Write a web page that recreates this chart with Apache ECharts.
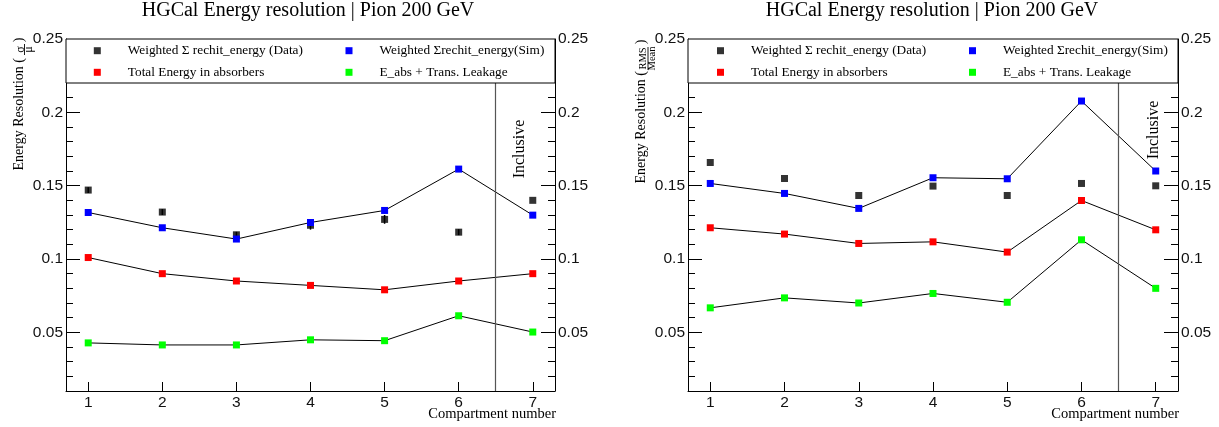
<!DOCTYPE html>
<html>
<head>
<meta charset="utf-8">
<title>HGCal Energy resolution | Pion 200 GeV</title>
<script src="https://cdn.jsdelivr.net/npm/echarts@6/dist/echarts.min.js"></script>
<style>
  html, body { margin: 0; padding: 0; background: #fff; }
  #chart { width: 1219px; height: 427px; }
</style>
</head>
<body>
<div id="chart"></div>
<script>
// Compartment numbers (7 = inclusive)
const compartments = [1, 2, 3, 4, 5, 6, 7];

// Resolution from the fitted width: sigma / mu
const sigmaData = [0.147, 0.132, 0.1165, 0.123, 0.127, 0.1183, 0.140];
const sigmaDataErr = [0.002, 0.002, 0.002, 0.003, 0.003, 0.002, 0];
const sigmaSim = [0.1317, 0.1213, 0.1136, 0.1249, 0.1331, 0.1613, 0.1299];
const sigmaSimErr = [0, 0, 0, 0.002, 0.002, 0.002, 0];
const sigmaAbs = [0.101, 0.090, 0.085, 0.082, 0.079, 0.085, 0.090];
const sigmaLeak = [0.0428, 0.0414, 0.0414, 0.0449, 0.0443, 0.0613, 0.0502];

// Resolution from RMS / Mean
const rmsData = [0.1658, 0.1549, 0.1433, 0.1497, 0.1433, 0.1515, 0.1499];
const rmsSim = [0.1515, 0.1447, 0.1345, 0.1554, 0.1547, 0.2077, 0.160];
const rmsAbs = [0.1213, 0.117, 0.1106, 0.1117, 0.1047, 0.1399, 0.1199];
const rmsLeak = [0.0667, 0.0735, 0.0700, 0.0765, 0.0705, 0.1131, 0.0800];

// Axis ticks and labels
const xMajorTicks = [1, 2, 3, 4, 5, 6, 7];
const yLabelValues = [0.05, 0.1, 0.15, 0.2, 0.25];
const yMajorTicks = [0.05, 0.1, 0.15, 0.2];

const xMinorTicks = [];
for (let i = 4; i <= 36; i++) { if (i % 5 !== 0) xMinorTicks.push(Math.round(i * 2) / 10); }
const yMinorTicks = [];
for (let i = 2; i <= 21; i++) { if (i % 5 !== 0) yMinorTicks.push(i / 100); }

const N_DATA = 'Weighted \u03A3 rechit_energy (Data)';
const N_SIM = 'Weighted \u03A3rechit_energy(Sim)';
const N_ABS = 'Total Energy in absorbers';
const N_LEAK = 'E_abs + Trans. Leakage';

const SERIF = '"Liberation Serif", "Times New Roman", serif';
const SANS = '"Liberation Sans", Arial, Helvetica, sans-serif';

const X_MIN = 0.7, X_MAX = 7.3, Y_MIN = 0.01, Y_MAX = 0.25, LEGEND_BOTTOM = 0.22, INCL_EDGE = 6.5;

const grids = [
  { left: 66, top: 39, width: 489, height: 352 },
  { left: 688, top: 39, width: 490, height: 352 }
];

function pairs(vals) { return compartments.map((c, i) => [c, vals[i]]); }
function errTriples(vals, errs) {
  return compartments.map((c, i) => [c, vals[i], errs[i]]).filter(d => d[2] > 0);
}

const xAxes = [], yAxes = [], series = [];

function axisSet(g) {
  xAxes.push({
    gridIndex: g, type: 'value', min: X_MIN, max: X_MAX,
    axisLine: { show: true, onZero: false, lineStyle: { color: '#000', width: 1 } },
    axisTick: { show: true, inside: true, length: 9, customValues: xMajorTicks, lineStyle: { color: '#000', width: 1 } },
    axisLabel: { customValues: xMajorTicks, fontFamily: SANS, fontSize: 15.5, color: '#111', margin: 4 },
    splitLine: { show: false }
  });
  xAxes.push({
    gridIndex: g, type: 'value', min: X_MIN, max: X_MAX,
    axisLine: { show: false },
    axisTick: { show: true, inside: true, length: 4.5, customValues: xMinorTicks, lineStyle: { color: '#000', width: 1 } },
    axisLabel: { show: false },
    splitLine: { show: false }
  });
  ['left', 'right'].forEach(pos => {
    yAxes.push({
      gridIndex: g, type: 'value', position: pos, min: Y_MIN, max: Y_MAX,
      axisLine: { show: true, onZero: false, lineStyle: { color: '#000', width: 1 } },
      axisTick: { show: true, inside: true, length: 14, customValues: yMajorTicks, lineStyle: { color: '#000', width: 1 } },
      axisLabel: { customValues: yLabelValues, fontFamily: SANS, fontSize: 15.5, color: '#111', margin: 3 },
      splitLine: { show: false }
    });
    yAxes.push({
      gridIndex: g, type: 'value', position: pos, min: Y_MIN, max: Y_MAX,
      axisLine: { show: false },
      axisTick: { show: true, inside: true, length: 7, customValues: yMinorTicks, lineStyle: { color: '#000', width: 1 } },
      axisLabel: { show: false },
      splitLine: { show: false }
    });
  });
}

function errorBars(g, vals, errs) {
  return {
    type: 'custom', xAxisIndex: 2 * g, yAxisIndex: 4 * g, z: 3, silent: true,
    data: errTriples(vals, errs),
    encode: { x: 0, y: 1 },
    renderItem: function (params, api) {
      const x = api.value(0), y = api.value(1), e = api.value(2);
      const p1 = api.coord([x, y - e]);
      const p2 = api.coord([x, y + e]);
      return {
        type: 'line',
        shape: { x1: p1[0], y1: p1[1], x2: p2[0], y2: p2[1] },
        style: { stroke: '#000', lineWidth: 1.5 }
      };
    }
  };
}

function lineSeries(g, name, vals, color, extra) {
  return Object.assign({
    name: name, type: 'line', xAxisIndex: 2 * g, yAxisIndex: 4 * g,
    data: pairs(vals), symbol: 'rect', symbolSize: 7, showAllSymbol: true,
    lineStyle: { color: '#000', width: 1 },
    itemStyle: { color: color },
    emphasis: { disabled: true }, z: 4, silent: true
  }, extra || {});
}

function panel(g, dataV, dataE, simV, simE, absV, leakV) {
  axisSet(g);
  if (dataE) series.push(errorBars(g, dataV, dataE));
  if (simE) series.push(errorBars(g, simV, simE));
  series.push({
    name: N_DATA, type: 'scatter', xAxisIndex: 2 * g, yAxisIndex: 4 * g,
    data: pairs(dataV), symbol: 'rect', symbolSize: 7,
    itemStyle: { color: '#000' }, emphasis: { disabled: true }, z: 4, silent: true
  });
  series.push(lineSeries(g, N_SIM, simV, '#0000ff'));
  series.push(lineSeries(g, N_ABS, absV, '#ff0000'));
  series.push(lineSeries(g, N_LEAK, leakV, '#00ff00', {
    markLine: {
      silent: true, symbol: ['none', 'none'], label: { show: false },
      lineStyle: { color: '#555', width: 1.2, type: 'solid' },
      data: [[{ coord: [INCL_EDGE, Y_MIN] }, { coord: [INCL_EDGE, LEGEND_BOTTOM] }]]
    },
    markArea: {
      silent: true, z: 6,
      itemStyle: { color: '#fff', borderColor: '#000', borderWidth: 1 },
      label: { show: false },
      data: [[{ yAxis: LEGEND_BOTTOM }, { yAxis: Y_MAX }]]
    }
  }));
}

panel(0, sigmaData, sigmaDataErr, sigmaSim, sigmaSimErr, sigmaAbs, sigmaLeak);
panel(1, rmsData, null, rmsSim, null, rmsAbs, rmsLeak);

const legendText = { fontFamily: SERIF, fontSize: 13.3, lineHeight: 14, color: '#000', padding: [0, 0, 0, 22] };
function legendCol(left, names, colors) {
  return {
    left: left, top: 43.7, orient: 'vertical', itemGap: 7.6, itemWidth: 7, itemHeight: 7,
    icon: 'rect', padding: 0, selectedMode: false, z: 10,
    data: names.map((n, i) => ({ name: n, icon: 'rect', itemStyle: { color: colors[i], borderWidth: 0 } })),
    textStyle: legendText
  };
}
const legends = [
  legendCol(93.8, [N_DATA, N_ABS], ['#000', '#ff0000']),
  legendCol(345.5, [N_SIM, N_LEAK], ['#0000ff', '#00ff00']),
  legendCol(717, [N_DATA, N_ABS], ['#000', '#ff0000']),
  legendCol(969, [N_SIM, N_LEAK], ['#0000ff', '#00ff00'])
];

// Titles, rotated axis titles and labels
const R = Math.PI / 2;
function rtext(x, y, text, font, align) {
  return { type: 'text', x: x, y: y, rotation: R, silent: true, z: 20,
    style: { text: text, font: font, fill: '#000', textAlign: align || 'center', textVerticalAlign: 'middle' } };
}
function hline(x, y1, y2) {
  return { type: 'line', silent: true, z: 20, shape: { x1: x, y1: y1, x2: x, y2: y2 }, style: { stroke: '#000', lineWidth: 0.9 } };
}
const graphics = [
  { type: 'text', x: 308, y: 11, silent: true, style: { text: 'HGCal Energy resolution | Pion 200 GeV', font: '20px ' + SERIF, fill: '#000', textAlign: 'center', textVerticalAlign: 'middle' } },
  { type: 'text', x: 932, y: 11, silent: true, style: { text: 'HGCal Energy resolution | Pion 200 GeV', font: '20px ' + SERIF, fill: '#000', textAlign: 'center', textVerticalAlign: 'middle' } },
  { type: 'text', x: 556, y: 414, silent: true, style: { text: 'Compartment number', font: '14.5px ' + SERIF, fill: '#000', textAlign: 'right', textVerticalAlign: 'middle' } },
  { type: 'text', x: 1179, y: 414, silent: true, style: { text: 'Compartment number', font: '14.5px ' + SERIF, fill: '#000', textAlign: 'right', textVerticalAlign: 'middle' } },
  rtext(520, 149, 'Inclusive', '16px ' + SERIF),
  rtext(1154, 130, 'Inclusive', '16px ' + SERIF),
  // sigma / mu
  rtext(19.5, 58, 'Energy Resolution (', '14px ' + SERIF, 'right'),
  rtext(20.5, 49.5, '\u03C3', '12px ' + SERIF),
  rtext(28.5, 49.5, '\u03BC', '12px ' + SERIF),
  hline(24.5, 44, 55),
  rtext(19.5, 40, ')', '14px ' + SERIF),
  // RMS / Mean
  rtext(641.5, 71, 'Energy Resolution (', '14px ' + SERIF, 'right'),
  rtext(643.5, 58.5, 'RMS', '10.5px ' + SERIF),
  rtext(652, 58.5, 'Mean', '10.5px ' + SERIF),
  hline(648, 47, 70),
  rtext(641.5, 42, ')', '14px ' + SERIF)
];

const chart = echarts.init(document.getElementById('chart'), null, { renderer: 'canvas' });
chart.setOption({
  animation: false,
  backgroundColor: '#fff',
  grid: grids,
  xAxis: xAxes,
  yAxis: yAxes,
  legend: legends,
  series: series,
  graphic: graphics
});
</script>
</body>
</html>
